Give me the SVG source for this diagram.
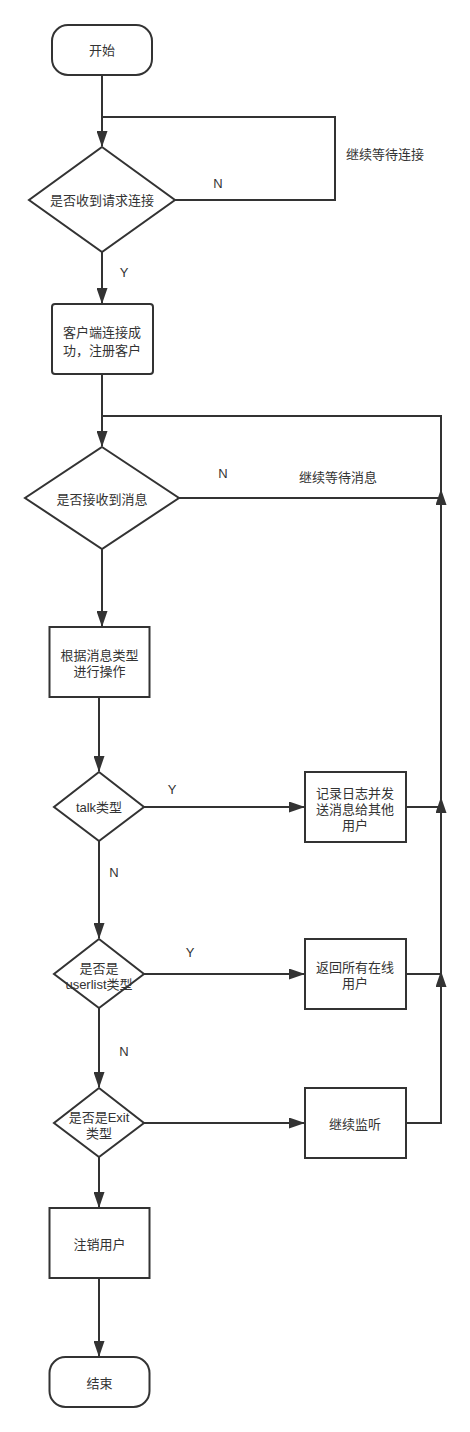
<svg xmlns="http://www.w3.org/2000/svg" width="470" height="1432" viewBox="0 0 470 1432">
<style>
.n{fill:#fff;stroke:#333;stroke-width:2}
.c{fill:none;stroke:#333;stroke-width:2}
.a{marker-end:url(#ah)}
text{font-family:"Liberation Sans","Noto Sans CJK SC",sans-serif;font-size:13px;fill:#333;text-anchor:middle;dominant-baseline:central}
</style>
<defs>
<marker id="ah" markerUnits="userSpaceOnUse" markerWidth="16" markerHeight="11" refX="15" refY="5.5" orient="auto">
<path d="M0,0 L16,5.5 L0,11 z" fill="#333"/>
</marker>
</defs>
<rect width="470" height="1432" fill="#fff"/>
<g id="connectors">
<path class="c a" d="M102,75 V146"/>
<path class="c" d="M175,200 H335 V117 H102"/>
<path class="c a" d="M102,252 V303"/>
<path class="c a" d="M102,374 V446"/>
<path class="c" d="M406,1123 H441 V416 H102"/>
<path class="c a" d="M179,498 H441 V490"/>
<path class="c a" d="M102,549 V626"/>
<path class="c a" d="M99,697 V771"/>
<path class="c a" d="M144,807 H304"/>
<path class="c a" d="M406,807 H441 V798"/>
<path class="c a" d="M99,841 V938"/>
<path class="c a" d="M144,974 H304"/>
<path class="c" d="M406,974 H441"/>
<path class="c a" d="M441,988 V972"/>
<path class="c a" d="M99,1008 V1087"/>
<path class="c a" d="M144,1123 H304"/>
<path class="c a" d="M99,1157 V1207"/>
<path class="c a" d="M99,1278 V1356"/>
<text x="218" y="183">N</text>
<text x="124" y="272">Y</text>
<text x="385" y="154">继续等待连接</text>
<text x="223" y="473">N</text>
<text x="338" y="477">继续等待消息</text>
<text x="172" y="789">Y</text>
<text x="114" y="872">N</text>
<text x="190" y="952">Y</text>
<text x="124" y="1051">N</text>
</g>
<g id="start">
<rect class="n" x="52" y="25" width="100" height="50" rx="16"/>
<text x="102" y="50">开始</text>
</g>
<g id="d1">
<polygon class="n" points="102,147 175,200 102,252 29,200"/>
<text x="102" y="200">是否收到请求连接</text>
</g>
<g id="register">
<rect class="n" x="52" y="304" width="101" height="70" rx="3"/>
<text x="102" y="332">客户端连接成</text>
<text x="102" y="350">功，注册客户</text>
</g>
<g id="d2">
<polygon class="n" points="102,447 179,498 102,549 25,498"/>
<text x="102" y="499">是否接收到消息</text>
</g>
<g id="dispatch">
<rect class="n" x="49.5" y="627" width="100" height="70"/>
<text x="99.5" y="655">根据消息类型</text>
<text x="99.5" y="671">进行操作</text>
</g>
<g id="talk">
<polygon class="n" points="99,772 144,807 99,841 54,807"/>
<text x="99" y="807">talk类型</text>
</g>
<g id="broadcast">
<rect class="n" x="305" y="772" width="101" height="70"/>
<text x="355" y="793">记录日志并发</text>
<text x="355" y="809">送消息给其他</text>
<text x="355" y="825">用户</text>
</g>
<g id="userlist">
<polygon class="n" points="99,939 144,974 99,1008 54,974"/>
<text x="99" y="968">是否是</text>
<text x="99" y="984">userlist类型</text>
</g>
<g id="online">
<rect class="n" x="305" y="939" width="101" height="70"/>
<text x="355" y="967">返回所有在线</text>
<text x="355" y="983">用户</text>
</g>
<g id="exit">
<polygon class="n" points="99,1088 144,1123 99,1157 54,1123"/>
<text x="99" y="1117">是否是Exit</text>
<text x="99" y="1133">类型</text>
</g>
<g id="listen">
<rect class="n" x="305" y="1088" width="101" height="70"/>
<text x="355" y="1124">继续监听</text>
</g>
<g id="logout">
<rect class="n" x="49.5" y="1208" width="100" height="70"/>
<text x="99.5" y="1244">注销用户</text>
</g>
<g id="end">
<rect class="n" x="49.5" y="1357" width="100" height="50" rx="16"/>
<text x="99.5" y="1383">结束</text>
</g>
</svg>
